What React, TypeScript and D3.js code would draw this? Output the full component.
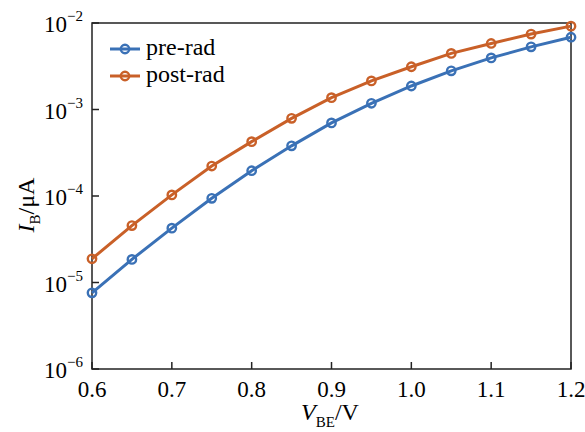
import { useEffect, useRef } from "react";
import * as d3 from "d3";

const vbe = [0.6, 0.65, 0.7, 0.75, 0.8, 0.85, 0.9, 0.95, 1.0, 1.05, 1.1, 1.15, 1.2];
const preRad = [7.6e-6, 1.85e-5, 4.25e-5, 9.4e-5, 1.96e-4, 3.8e-4, 7.0e-4, 1.18e-3, 1.87e-3, 2.8e-3, 3.95e-3, 5.3e-3, 6.85e-3];
const postRad = [1.88e-5, 4.55e-5, 1.03e-4, 2.22e-4, 4.25e-4, 7.9e-4, 1.37e-3, 2.14e-3, 3.12e-3, 4.45e-3, 5.8e-3, 7.45e-3, 9.2e-3];
const xTicks = [0.6, 0.7, 0.8, 0.9, 1.0, 1.1, 1.2];
const yExponents = [-2, -3, -4, -5, -6];

const series = [
  { name: "pre-rad", values: preRad, color: "#3a71b6" },
  { name: "post-rad", values: postRad, color: "#c96028" },
];

const W = 585;
const H = 432;
const margin = { top: 23, right: 14, bottom: 63, left: 92 };
const FONT = "Liberation Serif, DejaVu Serif, serif";

const App = () => {
  const svgRef = useRef<SVGSVGElement>(null);

  useEffect(() => {
    const svg = d3.select(svgRef.current);
    svg.selectAll("*").remove();

    const x = d3.scaleLinear().domain([0.6, 1.2]).range([margin.left, W - margin.right]);
    const y = d3.scaleLog().domain([1e-6, 1e-2]).range([H - margin.bottom, margin.top]);

    const [x0, x1] = x.range();
    const [yb, yt] = y.range();

    // frame
    svg.append("rect")
      .attr("x", x0).attr("y", yt)
      .attr("width", x1 - x0).attr("height", yb - yt)
      .attr("fill", "none").attr("stroke", "#222").attr("stroke-width", 1.5);

    // x ticks (inward)
    const xg = svg.append("g");
    xTicks.forEach((t) => {
      xg.append("line")
        .attr("x1", x(t)).attr("x2", x(t))
        .attr("y1", yb).attr("y2", yb - 7)
        .attr("stroke", "#222").attr("stroke-width", 1.5);
      xg.append("text")
        .attr("x", x(t)).attr("y", yb + 28)
        .attr("text-anchor", "middle")
        .attr("font-family", FONT).attr("font-size", 23)
        .text(d3.format(".1f")(t));
    });

    // y ticks (inward)
    const yg = svg.append("g");
    yExponents.forEach((e) => {
      const v = Math.pow(10, e);
      yg.append("line")
        .attr("x1", x0).attr("x2", x0 + 7)
        .attr("y1", y(v)).attr("y2", y(v))
        .attr("stroke", "#222").attr("stroke-width", 1.5);
      const t = yg.append("text")
        .attr("x", x0 - 9).attr("y", y(v) + 9)
        .attr("text-anchor", "end")
        .attr("font-family", FONT).attr("font-size", 23);
      t.append("tspan").text("10");
      t.append("tspan").attr("dy", -11).attr("font-size", 15).text(`\u2212${-e}`);
    });

    const line = d3.line<number>()
      .x((_, i) => x(vbe[i]))
      .y((d) => y(d));

    series.forEach((s) => {
      const g = svg.append("g");
      g.append("path")
        .datum(s.values)
        .attr("d", line)
        .attr("fill", "none")
        .attr("stroke", s.color)
        .attr("stroke-width", 3);
      g.selectAll("circle")
        .data(s.values)
        .join("circle")
        .attr("cx", (_, i) => x(vbe[i]))
        .attr("cy", (d) => y(d))
        .attr("r", 4.2)
        .attr("fill", "none")
        .attr("stroke", s.color)
        .attr("stroke-width", 2.4);
    });

    // legend
    const lg = svg.append("g");
    series.forEach((s, i) => {
      const ly = 49 + i * 27;
      lg.append("line")
        .attr("x1", 110).attr("x2", 140)
        .attr("y1", ly).attr("y2", ly)
        .attr("stroke", s.color).attr("stroke-width", 3);
      lg.append("circle")
        .attr("cx", 125).attr("cy", ly).attr("r", 4.2)
        .attr("fill", "none").attr("stroke", s.color).attr("stroke-width", 2.4);
      lg.append("text")
        .attr("x", 146).attr("y", ly + 6)
        .attr("font-family", FONT).attr("font-size", 24)
        .text(s.name);
    });

    // axis titles
    const xt = svg.append("text")
      .attr("x", 330).attr("y", 420)
      .attr("text-anchor", "middle")
      .attr("font-family", FONT).attr("font-size", 24);
    xt.append("tspan").attr("font-style", "italic").text("V");
    xt.append("tspan").attr("dy", 7).attr("font-size", 15).text("BE");
    xt.append("tspan").attr("dy", -7).text("/V");

    const yt2 = svg.append("text")
      .attr("transform", `translate(34,205) rotate(-90)`)
      .attr("text-anchor", "middle")
      .attr("font-family", FONT).attr("font-size", 24);
    yt2.append("tspan").attr("font-style", "italic").text("I");
    yt2.append("tspan").attr("dy", 6).attr("font-size", 15).text("B");
    yt2.append("tspan").attr("dy", -6).text("/\u03bcA");
  }, []);

  return (
    <div style={{ position: "absolute", left: 0, top: 0, background: "#fff" }}>
      <svg ref={svgRef} width={W} height={H} />
    </div>
  );
};

export default App;
